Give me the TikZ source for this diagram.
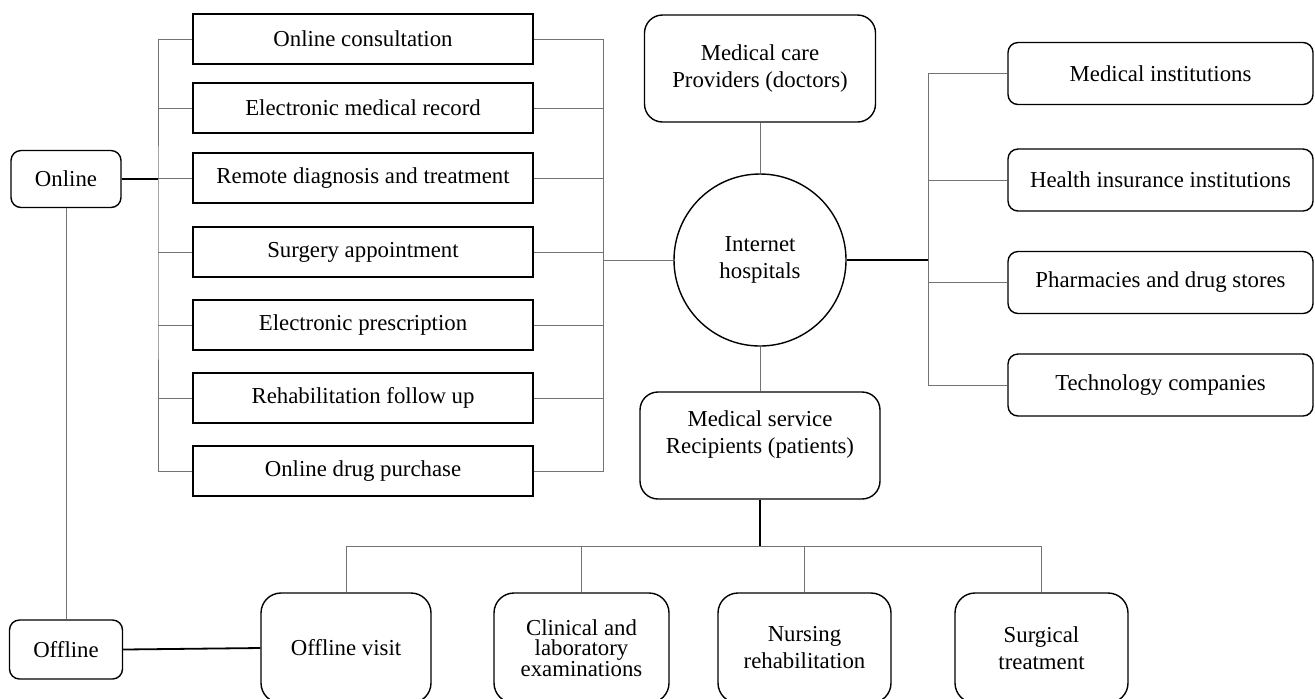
\documentclass[tikz,border=0pt]{standalone}
\usepackage{fontspec}
\setmainfont{Liberation Serif}
\usetikzlibrary{shapes}

\begin{document}
\begin{tikzpicture}[x=0.5pt, y=-0.5pt, font=\fontsize{11.4}{13.5}\selectfont,
	sqbox/.style={draw, line width=0.7pt, minimum width=170pt, minimum height=25pt, inner sep=1pt},
	rbox/.style={draw, line width=0.7pt, rounded corners=5pt, align=center, inner sep=1pt},
	partner/.style={rbox, minimum width=152.5pt, minimum height=31pt},
	offbox/.style={rbox, rounded corners=10pt, minimum height=55pt},
	link/.style={draw=black!55, line width=0.5pt},
	trunk/.style={draw=black, line width=0.9pt}]
	\useasboundingbox (0,0) rectangle (1315,698);
	\clip (0,0) rectangle (1315,698);

	% left side: online / offline
	\node[rbox, minimum width=55pt, minimum height=28.5pt]		(online) at (66,179) {Online};
	\node[rbox, minimum width=56.5pt, minimum height=29.5pt]	(offline) at (66,649.5) {Offline};

	\node[sqbox]	(on1) at (363,39)  {Online consultation};
	\node[sqbox]	(on2) at (363,108) {Electronic medical record};
	\node[sqbox]	(on3) at (363,178) {Remote diagnosis and treatment};
	\node[sqbox]	(on4) at (363,252) {Surgery appointment};
	\node[sqbox]	(on5) at (363,325) {Electronic prescription};
	\node[sqbox]	(on6) at (363,398) {Rehabilitation follow up};
	\node[sqbox]	(on7) at (363,471) {Online drug purchase};

	% centre
	\node[draw, circle, line width=0.7pt, minimum size=86pt, align=center, inner sep=0pt]	(hosp) at (760,260) {Internet\\hospitals};
	\node[rbox, rounded corners=9pt, minimum width=115.5pt, minimum height=53.5pt]	(doctors) at (760,68.5) {Medical care\\Providers (doctors)};
	\node[rbox, rounded corners=9pt, minimum width=120pt, minimum height=53.5pt]	(patients) at (760,445.5) {Medical service\\Recipients (patients)\\\mbox{}};

	% right side
	\node[partner]	(inst) at (1160.5,73.5) {Medical institutions};
	\node[partner]	(insur) at (1160.5,180) {Health insurance institutions};
	\node[partner]	(pharm) at (1160.5,282.5) {Pharmacies and drug stores};
	\node[partner]	(tech) at (1160.5,385) {Technology companies};

	% bottom row
	\node[offbox, minimum width=85pt]	(visit) at (346,648) {Offline visit};
	\node[offbox, minimum width=87.5pt, font=\fontsize{11.4}{10.2}\selectfont]	(clin) at (581.5,648) {Clinical and\\laboratory\\examinations};
	\node[offbox, minimum width=86.5pt]	(nurse) at (804.5,648) {Nursing\\rehabilitation};
	\node[offbox, minimum width=86.5pt]	(surg) at (1041.5,648) {Surgical\\treatment};

	\coordinate (lbus) at (158,250);
	\coordinate (rbus) at (603,250);
	\coordinate (ibus) at (928,200);
	\coordinate (bbus) at (760,546);

	\draw[link]		(on1.west) -| (lbus) |- (on7.west);
	\draw[link]		(on2.west) -- (on2.west -| lbus);
	\draw[link]		(on3.west) -- (on3.west -| lbus);
	\draw[link]		(on4.west) -- (on4.west -| lbus);
	\draw[link]		(on5.west) -- (on5.west -| lbus);
	\draw[link]		(on6.west) -- (on6.west -| lbus);
	\draw[trunk]	(online.east) -- (online.east -| lbus);

	\draw[link]		(on1.east) -| (rbus) |- (on7.east);
	\draw[link]		(on2.east) -- (on2.east -| rbus);
	\draw[link]		(on3.east) -- (on3.east -| rbus);
	\draw[link]		(on4.east) -- (on4.east -| rbus);
	\draw[link]		(on5.east) -- (on5.east -| rbus);
	\draw[link]		(on6.east) -- (on6.east -| rbus);
	\draw[link]		(hosp.west) -- (hosp.west -| rbus);

	\draw[link]		(inst.west) -| (ibus) |- (tech.west);
	\draw[link]		(insur.west) -- (insur.west -| ibus);
	\draw[link]		(pharm.west) -- (pharm.west -| ibus);
	\draw[trunk]	(hosp.east) -- (hosp.east -| ibus);

	\draw[link]		(doctors.south) -- (hosp.north);
	\draw[link]		(hosp.south) -- (patients.north);

	\draw[trunk]	(patients.south) -- (bbus);
	\draw[link]		(visit.north) |- (bbus) -| (surg.north);
	\draw[link]		(clin.north) -- (clin.north |- bbus);
	\draw[link]		(nurse.north) -- (nurse.north |- bbus);

	\draw[link]		(online.south) -- (offline.north);
	\draw[trunk]	(offline.east) -- (visit.west);
\end{tikzpicture}
\end{document}
